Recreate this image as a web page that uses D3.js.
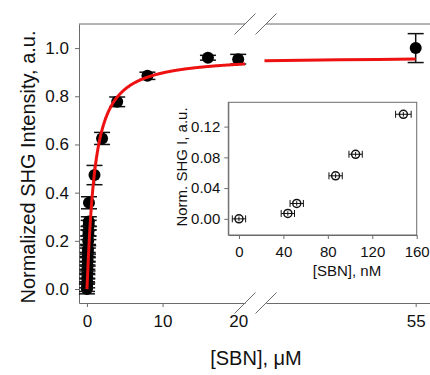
<!DOCTYPE html>
<html>
<head>
<meta charset="utf-8">
<script src="https://cdn.jsdelivr.net/npm/d3@7"></script>
<style>
  body { margin: 0; background: #fff; }
  svg { font-family: "Liberation Sans", Arial, sans-serif; }
  .axis path, .axis line { stroke: #6b6b6b; }
  .axis text { fill: #111; }
</style>
</head>
<body>
<svg id="chart" width="430" height="375"></svg>
<script>
// main plot data (uM)
const mainConc   = [0, 0.01, 0.03, 0.04, 0.05, 0.06, 0.08, 0.09, 0.1, 0.12, 0.14, 0.17, 0.19, 0.21, 0.23, 0.25, 0.27, 1, 2, 4, 8, 16, 20, 55];
const mainSignal = [0.0, 0.01, 0.025, 0.045, 0.062, 0.08, 0.095, 0.115, 0.132, 0.15, 0.165, 0.2, 0.225, 0.24, 0.265, 0.28, 0.358, 0.473, 0.625, 0.777, 0.885, 0.96, 0.954, 1.0];
const mainErr    = [0.02, 0.02, 0.02, 0.02, 0.02, 0.02, 0.02, 0.02, 0.02, 0.02, 0.02, 0.02, 0.02, 0.02, 0.02, 0.02, 0.025, 0.04, 0.025, 0.02, 0.015, 0.01, 0.02, 0.06];

// fitted binding curve parameters
const fitBmax = 0.965;
const fitKd = 1.0;
const fitHill = 1.12;

// inset data (nM)
const insetConc      = [0, 44, 52, 87, 105, 148];
const insetSignal    = [0.0, 0.007, 0.02, 0.056, 0.084, 0.136];
const insetConcErr   = [6, 6, 6, 6, 6, 7];
const insetSignalErr = [0.003, 0.003, 0.003, 0.003, 0.003, 0.003];

const yTicks = [0, 0.2, 0.4, 0.6, 0.8, 1.0];
const xTicksLow = [0, 10, 20];
const xTicksHigh = [55];
const insetXTicks = [0, 40, 80, 120, 160];
const insetYTicks = [0, 0.04, 0.08, 0.12];

const svg = d3.select("#chart");

const y = d3.scaleLinear().domain([-0.058, 1.1]).range([303, 24]);
const xLow = d3.scaleLinear().domain([-1.05, 20.9]).range([79, 245]);
const xHigh = d3.scaleLinear().domain([35.2, 57]).range([266, 430.8]);
const xOf = v => v > 30 ? xHigh(v) : xLow(v);

// Y axis
svg.append("g")
  .attr("class", "axis")
  .attr("transform", "translate(79,0)")
  .call(d3.axisLeft(y).tickValues(yTicks).tickFormat(d3.format(".1f")).tickSize(4).tickSizeOuter(0).tickPadding(6))
  .selectAll("text").style("font-size", "17px");

// X axis, two pieces
const xa = svg.append("g")
  .attr("class", "axis")
  .attr("transform", "translate(0,303)")
  .call(d3.axisBottom(xLow).tickValues(xTicksLow).tickSize(4).tickSizeOuter(0).tickPadding(8));
xa.selectAll("text").style("font-size", "17px");
xa.selectAll(".tick").filter(d => d === 20).select("line").remove();

svg.append("g")
  .attr("class", "axis")
  .attr("transform", "translate(0,303)")
  .call(d3.axisBottom(xHigh).tickValues(xTicksHigh).tickSize(4).tickSizeOuter(0).tickPadding(8))
  .selectAll("text").style("font-size", "17px");

// top frame
svg.append("line").attr("x1", 79).attr("x2", 245).attr("y1", 24).attr("y2", 24).attr("stroke", "#6b6b6b");
svg.append("line").attr("x1", 266).attr("x2", 430).attr("y1", 24).attr("y2", 24).attr("stroke", "#6b6b6b");

// break marks
[24, 303].forEach(yy => {
  [245, 266].forEach(xx => {
    svg.append("line")
      .attr("x1", xx - 10.5).attr("y1", yy + 10.5)
      .attr("x2", xx + 10.5).attr("y2", yy - 10.5)
      .attr("stroke", "#6b6b6b").attr("stroke-width", 1);
  });
});

// axis labels
svg.append("text")
  .attr("transform", "translate(35,167) rotate(-90)")
  .attr("text-anchor", "middle")
  .attr("font-size", "20px")
  .attr("fill", "#111")
  .text("Normalized SHG Intensity, a.u.");

svg.append("text")
  .attr("x", 256).attr("y", 365)
  .attr("text-anchor", "middle")
  .attr("font-size", "20px")
  .attr("fill", "#111")
  .text("[SBN], μM");

// main points with error bars
const mainData = mainConc.map((c, i) => ({ c, s: mainSignal[i], e: mainErr[i] }));
const pts = svg.append("g");
mainData.forEach(d => {
  const cx = xOf(d.c);
  pts.append("line").attr("x1", cx).attr("x2", cx).attr("y1", y(d.s - d.e)).attr("y2", y(d.s + d.e))
    .attr("stroke", "#111").attr("stroke-width", 1.5);
  [d.s - d.e, d.s + d.e].forEach(v => {
    pts.append("line").attr("x1", cx - 8).attr("x2", cx + 8).attr("y1", y(v)).attr("y2", y(v))
      .attr("stroke", "#111").attr("stroke-width", 1.5);
  });
  pts.append("circle").attr("cx", cx).attr("cy", y(d.s)).attr("r", 6).attr("fill", "#000");
});

// fit curve
const hill = c => fitBmax * Math.pow(c, fitHill) / (Math.pow(fitKd, fitHill) + Math.pow(c, fitHill));
const lowCurve = d3.range(0, 400).map(i => Math.pow(i / 399, 2) * 20.9);
const highCurve = [35, 40, 45, 50, 55];
const lineLow = d3.line().x(c => xLow(c)).y(c => y(hill(c)));
const lineHigh = d3.line().x(c => xHigh(c)).y(c => y(hill(c)));
svg.append("path").attr("d", lineLow(lowCurve)).attr("fill", "none").attr("stroke", "#ee1111").attr("stroke-width", 3);
svg.append("path").attr("d", lineHigh(highCurve)).attr("fill", "none").attr("stroke", "#ee1111").attr("stroke-width", 3);

// inset
const ix = d3.scaleLinear().domain([-9.6, 160]).range([228.3, 416.7]);
const iy = d3.scaleLinear().domain([-0.021, 0.1516]).range([235, 102.3]);
const inset = svg.append("g");

inset.append("rect")
  .attr("x", 228.3).attr("y", 102.3)
  .attr("width", 416.7 - 228.3).attr("height", 235 - 102.3)
  .attr("fill", "#fff").attr("stroke", "#6b6b6b");

inset.append("g")
  .attr("class", "axis")
  .attr("transform", "translate(228.3,0)")
  .call(d3.axisLeft(iy).tickValues(insetYTicks).tickFormat(d3.format(".2f")).tickSize(4).tickSizeOuter(0).tickPadding(4))
  .selectAll("text").style("font-size", "15px");

inset.append("g")
  .attr("class", "axis")
  .attr("transform", "translate(0,235)")
  .call(d3.axisBottom(ix).tickValues(insetXTicks).tickSize(4).tickSizeOuter(0).tickPadding(7))
  .selectAll("text").style("font-size", "15px");

inset.append("text")
  .attr("transform", "translate(187,167) rotate(-90)")
  .attr("text-anchor", "middle")
  .attr("font-size", "15px")
  .attr("fill", "#111")
  .text("Norm. SHG I, a.u.");

inset.append("text")
  .attr("x", 347).attr("y", 276)
  .attr("text-anchor", "middle")
  .attr("font-size", "15px")
  .attr("fill", "#111")
  .text("[SBN], nM");

insetConc.forEach((c, i) => {
  const cx = ix(c), cy = iy(insetSignal[i]);
  const x0 = ix(c - insetConcErr[i]), x1 = ix(c + insetConcErr[i]);
  const y0 = iy(insetSignal[i] - insetSignalErr[i]), y1 = iy(insetSignal[i] + insetSignalErr[i]);
  inset.append("line").attr("x1", x0).attr("x2", x1).attr("y1", cy).attr("y2", cy).attr("stroke", "#111").attr("stroke-width", 1);
  [x0, x1].forEach(xx => inset.append("line").attr("x1", xx).attr("x2", xx).attr("y1", cy - 3.5).attr("y2", cy + 3.5).attr("stroke", "#111").attr("stroke-width", 1));
  inset.append("line").attr("x1", cx).attr("x2", cx).attr("y1", y0).attr("y2", y1).attr("stroke", "#111").attr("stroke-width", 1);
  inset.append("circle").attr("cx", cx).attr("cy", cy).attr("r", 4).attr("fill", "none").attr("stroke", "#111").attr("stroke-width", 1.5);
});
</script>
</body>
</html>
